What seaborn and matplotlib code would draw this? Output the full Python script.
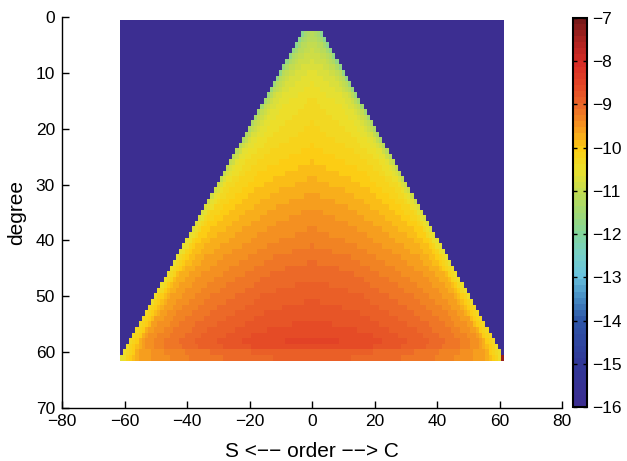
import numpy as np
import pandas as pd
import matplotlib
matplotlib.use("Agg")
import matplotlib.pyplot as plt
import seaborn as sns
from matplotlib.colors import LinearSegmentedColormap

plt.rcParams['font.family'] = ['Liberation Sans', 'DejaVu Sans']

# ---- data ----
orders = list(range(-61, 62))          # S <-- order --> C
degrees = list(range(1, 62))           # rows of the grid
first_degree = 3                       # first degree that carries a value
background_value = -16.0               # value outside the triangle |order| <= degree
corner_value = -7.3                    # single dark-red cell at degree 61, order 61

# sample degrees and relative positions |order|/degree at which values were read
deg_samples = [3, 5, 10, 15, 20, 25, 30, 35, 40, 45, 50, 55, 58, 59, 60, 61]
frac_samples = [0.0, 0.3, 0.6, 0.8, 0.92, 1.0]
vals_f000 = [-11.2, -11.0, -10.6, -10.35, -10.2, -10.0, -9.75, -9.5, -9.3, -9.05, -8.85, -8.65, -8.5, -8.55, -8.85, -8.9]
vals_f030 = [-11.3, -11.1, -10.7, -10.45, -10.3, -10.1, -9.85, -9.6, -9.4, -9.15, -8.95, -8.75, -8.6, -8.65, -8.95, -9.0]
vals_f060 = [-11.4, -11.2, -10.8, -10.55, -10.4, -10.2, -10.0, -9.8, -9.6, -9.4, -9.2, -9.0, -8.9, -8.95, -9.15, -9.2]
vals_f080 = [-11.6, -11.4, -11.0, -10.75, -10.6, -10.4, -10.2, -10.0, -9.8, -9.6, -9.45, -9.3, -9.2, -9.25, -9.4, -9.45]
vals_f092 = [-11.7, -11.6, -11.25, -11.0, -10.85, -10.6, -10.4, -10.2, -10.0, -9.85, -9.7, -9.6, -9.5, -9.55, -9.65, -9.7]
vals_f100 = [-11.8, -11.8, -11.7, -11.5, -11.3, -11.1, -10.9, -10.75, -10.6, -10.5, -10.4, -10.3, -10.3, -10.4, -10.5, -10.6]

# colour bar
cbar_ticks = list(range(-16, -6))
cmap_values = [-16, -15, -14, -13.5, -13, -12.5, -12, -11.5, -11, -10.5, -10, -9.5, -9, -8.5, -8, -7.5, -7]
cmap_colors = ['#3c2e91', '#303898', '#2e58a8', '#468cc3', '#69c3de', '#76d0c8', '#82d69b',
               '#a0d873', '#c3dc50', '#ebe12d', '#fccd14', '#f59620', '#ec6928', '#e44626',
               '#d72d26', '#af2320', '#781919']
xtick_vals = [-80, -60, -40, -20, 0, 20, 40, 60, 80]
ytick_vals = [0, 10, 20, 30, 40, 50, 60, 70]

# ---- build the grid table ----
table = np.vstack([vals_f000, vals_f030, vals_f060, vals_f080, vals_f092, vals_f100])  # frac x deg
grid = np.full((len(degrees), len(orders)), background_value)
for i, n in enumerate(degrees):
    if n < first_degree:
        continue
    row = [np.interp(n, deg_samples, table[k]) for k in range(len(frac_samples))]
    for j, m in enumerate(orders):
        if abs(m) <= n:
            grid[i, j] = np.interp(abs(m) / n, frac_samples, row)
grid[degrees.index(61), orders.index(61)] = corner_value
df = pd.DataFrame(grid, index=degrees, columns=orders)

lo, hi = cmap_values[0], cmap_values[-1]
cmap = LinearSegmentedColormap.from_list(
    'jetlike', [((v - lo) / (hi - lo), c) for v, c in zip(cmap_values, cmap_colors)]).resampled(64)

# ---- figure ----
fig = plt.figure(figsize=(6.27, 4.61), dpi=100)
ax = fig.add_axes([62 / 627, 1 - 408 / 461, 500 / 627, 391 / 461])
cax = fig.add_axes([573 / 627, 1 - 407 / 461, 14 / 627, 389 / 461])

sns.heatmap(df, ax=ax, cmap=cmap, vmin=-16, vmax=-7, cbar_ax=cax,
            xticklabels=False, yticklabels=False)

# map data coordinates: order m -> m + 61.5 ; degree n -> n - 0.5
ax.set_xlim(-80 + 61.5, 80 + 61.5)
ax.set_ylim(70 - 0.5, 0 - 0.5)
ax.set_xticks([v + 61.5 for v in xtick_vals])
ax.set_xticklabels([f"{v}".replace('-', '\u2212') for v in xtick_vals])
ax.set_yticks([v - 0.5 for v in ytick_vals])
ax.set_yticklabels([str(v) for v in ytick_vals], rotation=0)
for sp in ['left', 'bottom']:
    ax.spines[sp].set_visible(True)
    ax.spines[sp].set_color('black')
    ax.spines[sp].set_linewidth(1.0)
for sp in ['top', 'right']:
    ax.spines[sp].set_visible(False)
ax.tick_params(direction='in', length=5, width=1, labelsize=12.5, colors='black',
               top=False, right=False, left=True, bottom=True)
ax.tick_params(axis='x', pad=4)
ax.tick_params(axis='y', pad=5)
ax.set_xlabel('S <\u2212\u2212 order \u2212\u2212> C', fontsize=15, labelpad=10)
ax.set_ylabel('degree', fontsize=15, labelpad=7)

cbar = ax.collections[0].colorbar
cbar.set_ticks(cbar_ticks)
cbar.set_ticklabels([f"{v}".replace('-', '\u2212') for v in cbar_ticks])
cax.tick_params(direction='in', left=True, right=True, length=3, width=1,
                labelsize=12.5, colors='black', pad=4)
cbar.outline.set_visible(True)
cbar.outline.set_edgecolor('black')
cbar.outline.set_linewidth(1.5)

fig.savefig('out.png', dpi=100)
